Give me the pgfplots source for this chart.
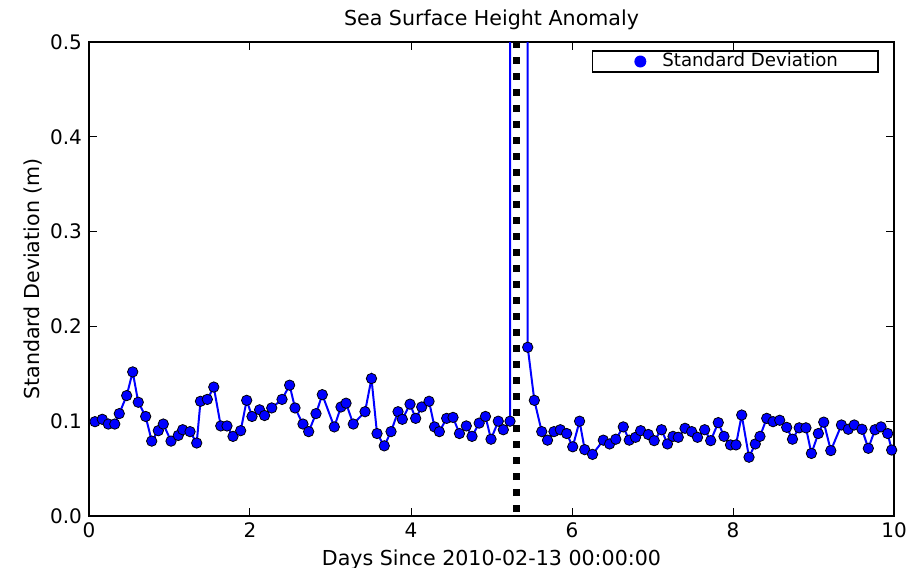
\documentclass[border=0pt]{standalone}
\usepackage{fontspec}
\setmainfont{DejaVu Sans}
\usepackage{pgfplots}
\pgfplotsset{compat=1.18}

\begin{document}
\begin{tikzpicture}
\begin{axis}[
    scale only axis,
    width=402.5bp, height=237bp,
    xmin=0, xmax=10, ymin=0, ymax=0.5,
    xtick={0,2,4,6,8,10},
    ytick={0,0.1,0.2,0.3,0.4,0.5},
    yticklabel style={/pgf/number format/.cd, fixed, fixed zerofill, precision=1},
    /pgf/number format/assume math mode=true,
    tick align=inside,
    major tick length=4bp,
    tick style={black, line width=0.5bp},
    axis line style={black, line width=1bp},
    ticklabel style={font=\fontsize{10bp}{12bp}\selectfont},
    every axis title/.style={at={(axis description cs:0.5,1.0338)}, anchor=base,
        font=\fontsize{10.3bp}{12bp}\selectfont},
    every axis x label/.style={at={(axis description cs:0.5,-0.1034)}, anchor=base,
        font=\fontsize{10.3bp}{12bp}\selectfont},
    every axis y label/.style={at={(axis description cs:-0.0609,0.5)}, rotate=90, anchor=base,
        font=\fontsize{10.3bp}{12bp}\selectfont},
    title={Sea Surface Height Anomaly},
    xlabel={Days Since 2010-02-13 00:00:00},
    ylabel={Standard Deviation (m)},
    legend style={at={(axis description cs:0.9801,0.981)}, anchor=north east,
        draw=black, line width=0.75bp, inner sep=0pt, outer sep=0pt,
        font=\fontsize{9.1bp}{10bp}\selectfont,
        nodes={inner sep=0pt}},
    legend cell align=left,
    legend image code/.code={
        \path[draw=none, use as bounding box] (0bp,-5.25bp) rectangle (35bp,5.25bp);
        \fill[blue, draw=none] (24bp,0bp) circle (3bp);
    },
]
% data series
\addplot[blue, line width=1bp, mark=*, mark size=2.6bp,
    mark options={fill=blue, draw=black, line width=0.4bp}]
coordinates {
(0.0745,0.0995) (0.165,0.102) (0.240,0.097) (0.320,0.097) (0.376,0.108)
(0.468,0.127) (0.543,0.152) (0.612,0.120) (0.704,0.105) (0.779,0.079)
(0.861,0.090) (0.923,0.097) (1.019,0.079) (1.109,0.085) (1.164,0.091)
(1.255,0.089) (1.338,0.077) (1.385,0.121) (1.470,0.123) (1.550,0.136)
(1.637,0.095) (1.714,0.095) (1.789,0.084) (1.884,0.090) (1.959,0.122)
(2.025,0.105) (2.119,0.112) (2.181,0.106) (2.270,0.114) (2.398,0.123)
(2.492,0.138) (2.559,0.114) (2.658,0.097) (2.729,0.089) (2.820,0.108)
(2.898,0.128) (3.047,0.094) (3.130,0.115) (3.193,0.119) (3.283,0.097)
(3.429,0.110) (3.509,0.145) (3.578,0.087) (3.668,0.074) (3.752,0.089)
(3.839,0.110) (3.892,0.102) (3.988,0.118) (4.058,0.103) (4.133,0.115)
(4.224,0.121) (4.292,0.094) (4.352,0.089) (4.443,0.103) (4.522,0.104)
(4.602,0.087) (4.687,0.095) (4.758,0.084) (4.847,0.098) (4.925,0.105)
(4.994,0.081) (5.084,0.100) (5.147,0.091) (5.230,0.100) (5.234,30.0)
(5.445,30.0) (5.450,0.178) (5.532,0.122) (5.624,0.089) (5.696,0.080)
(5.776,0.089) (5.855,0.091) (5.934,0.087) (6.009,0.073) (6.094,0.100)
(6.158,0.070) (6.255,0.065) (6.389,0.080) (6.467,0.076) (6.544,0.081)
(6.637,0.094) (6.711,0.080) (6.789,0.083) (6.853,0.090) (6.948,0.086)
(7.021,0.0795) (7.112,0.091) (7.186,0.076) (7.255,0.084) (7.320,0.083)
(7.404,0.0925) (7.487,0.089) (7.559,0.083) (7.648,0.091) (7.723,0.0795)
(7.817,0.0985) (7.888,0.084) (7.969,0.075) (8.037,0.075) (8.108,0.1065)
(8.199,0.062) (8.277,0.076) (8.335,0.084) (8.419,0.103) (8.497,0.0995)
(8.580,0.101) (8.667,0.0935) (8.739,0.081) (8.822,0.093) (8.906,0.093)
(8.974,0.066) (9.060,0.087) (9.127,0.099) (9.215,0.069) (9.347,0.096)
(9.432,0.0915) (9.506,0.096) (9.602,0.0915) (9.681,0.0714) (9.764,0.091)
(9.839,0.094) (9.922,0.087) (9.971,0.0696)
};
\addlegendentry{Standard Deviation\kern20bp}
% event marker
\addplot[black, line width=3.5bp, dash pattern=on 3.5bp off 4.5bp, forget plot]
coordinates {(5.313,0.004) (5.313,0.5)};
\end{axis}
\pgfresetboundingbox
\path[use as bounding box] (-44.5bp,-26bp) rectangle (411.5bp,258bp);
\end{tikzpicture}
\end{document}
